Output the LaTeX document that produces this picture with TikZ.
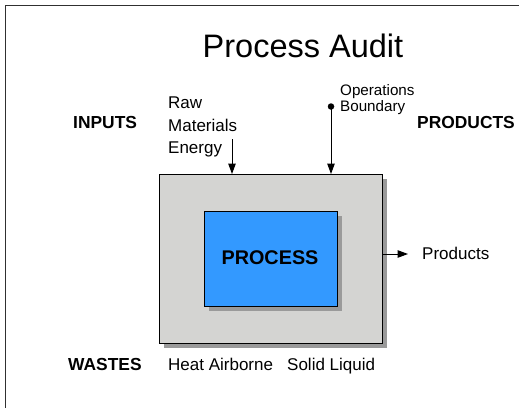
\documentclass[tikz,border=0pt]{standalone}
\usepackage{fontspec}
\setmainfont{Liberation Sans}
\usetikzlibrary{arrows.meta,shadows}
\definecolor{boxgray}{HTML}{D4D4D2}
\definecolor{procblue}{HTML}{3399FF}
\definecolor{shadowgray}{HTML}{9A9A9A}
\definecolor{framegray}{HTML}{303030}
\begin{document}
\begin{tikzpicture}[x=1pt,y=-1pt,
  txt/.style={anchor=base west,inner sep=0pt,font=\fontsize{17}{20}\selectfont},
  bold/.style={anchor=base west,inner sep=0pt,font=\fontsize{17.4}{20}\selectfont\bfseries},
  small/.style={anchor=base west,inner sep=0pt,font=\fontsize{15.2}{17}\selectfont},
  shadowed/.style={general shadow={fill=shadowgray,shadow xshift=4.5pt,shadow yshift=-4.5pt}},
  arr/.style={line width=1pt,-{Triangle[length=10.5pt,width=7.5pt]}},
  boxline/.style={draw=black,line width=1pt}]
\useasboundingbox (0,0) rectangle (519,407);
% page frame (left and top edges visible)
\draw[framegray,line width=1.5pt] (5.5,420) -- (5.5,5.5) -- (530,5.5);
% title
\node[anchor=base,inner sep=0pt,font=\fontsize{32.5}{38}\selectfont] (title) at (303,57.5) {Process Audit};
% boxes
\node[boxline,fill=boxgray,shadowed,anchor=north west,minimum width=223pt,minimum height=169pt,inner sep=0pt] (boundary) at (159,174) {};
\node[boxline,fill=procblue,shadowed,anchor=north west,minimum width=133pt,minimum height=95pt,inner sep=0pt] (process) at (204,211) {};
\node[anchor=base,inner sep=0pt,font=\fontsize{19.8}{22}\selectfont\bfseries] (proclabel) at (270,264) {PROCESS};
% labels
\node[bold] (inputs) at (73,128) {INPUTS};
\node[bold] (productshead) at (417,128) {PRODUCTS};
\node[bold] (wastes) at (68,370) {WASTES};
\node[txt] (raw) at (168,108) {Raw};
\node[txt] (materials) at (168,131) {Materials};
\node[txt] (energy) at (168,153) {Energy};
\node[small] (operations) at (340,95.5) {Operations};
\node[small] (boundarylabel) at (340,111) {Boundary};
\node[txt] (heat) at (168,370) {Heat Airborne};
\node[txt] (solid) at (287,370) {Solid Liquid};
\node[txt] (products) at (422,259) {Products};
% connectors
\coordinate (rawstart) at (232,139);
\draw[arr] (rawstart) -- (rawstart |- boundary.north);
\node[circle,fill=black,inner sep=0pt,minimum size=6.5pt] (dot) at (331,106.5) {};
\draw[arr] (dot.center) -- (dot |- boundary.north);
\coordinate (prodtip) at (408,254);
\draw[arr] (prodtip -| boundary.east) -- (prodtip);
\end{tikzpicture}
\end{document}
